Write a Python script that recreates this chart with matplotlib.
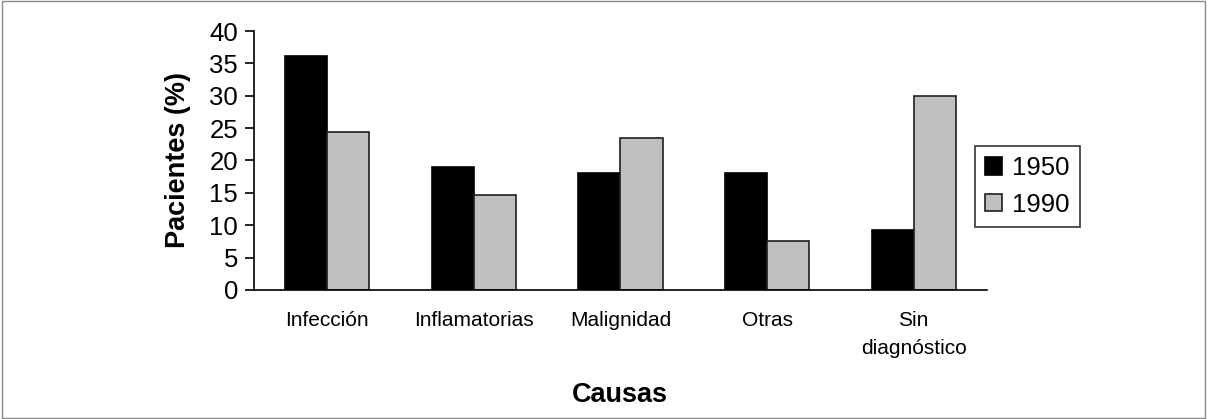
import numpy as np
import matplotlib.pyplot as plt
from matplotlib.patches import Rectangle

plt.rcParams['font.family'] = ['Liberation Sans', 'DejaVu Sans']

causas = ['Infección', 'Inflamatorias', 'Malignidad', 'Otras', 'Sin\ndiagnóstico']
pac_1950 = [36.2, 19.0, 18.0, 18.0, 9.2]
pac_1990 = [24.4, 14.6, 23.4, 7.6, 30.0]
series = ['1950', '1990']

fig = plt.figure(figsize=(12.07, 4.19), dpi=100)
ax = fig.add_axes([0.2104, 0.308, 0.6073, 0.618])

x = np.arange(len(causas))
w = 0.287
ax.bar(x - w / 2, pac_1950, w, color='black', edgecolor='black', linewidth=1.2, label=series[0])
ax.bar(x + w / 2, pac_1990, w, color='#c0c0c0', edgecolor='#202020', linewidth=1.2, label=series[1])

ax.set_xlim(-0.5, len(causas) - 0.5)
ax.set_ylim(0, 40)
ax.set_yticks(range(0, 41, 5))
ax.set_xticks(x)
ax.set_xticklabels(causas, fontsize=15, linespacing=1.6, va='top')
ax.tick_params(axis='x', length=0, pad=15)
ax.tick_params(axis='y', labelsize=18.5, length=6.5, width=1.2, direction='out', pad=5)

for s in ['top', 'right']:
    ax.spines[s].set_visible(False)
for s in ['left', 'bottom']:
    ax.spines[s].set_linewidth(1.2)

ax.set_ylabel('Pacientes (%)', fontsize=19.5, fontweight='bold', labelpad=13)
fig.text(0.5137, 0.057, 'Causas', fontsize=19.5, fontweight='bold', ha='center', va='center')

leg = fig.legend(loc='center left', bbox_to_anchor=(975 / 1207, 1 - 186.5 / 419),
                 fontsize=18.5, frameon=True, fancybox=False, edgecolor='black',
                 handlelength=0.65, handleheight=0.65, handletextpad=0.38,
                 borderpad=0.4, labelspacing=0.5, borderaxespad=0)
leg.get_frame().set_linewidth(1.2)

fig.patches.append(Rectangle((0.002, 0.003), 0.996, 0.994, transform=fig.transFigure,
                             fill=False, edgecolor='#888888', linewidth=1))

fig.savefig('out.png', dpi=100)
